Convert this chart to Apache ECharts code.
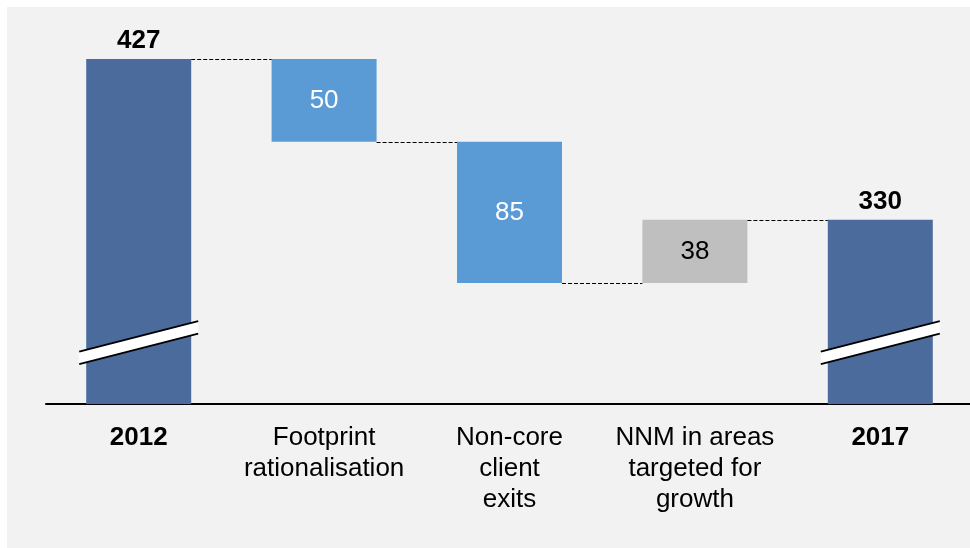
<!DOCTYPE html>
<html>
<head>
<meta charset="utf-8">
<script src="https://cdn.jsdelivr.net/npm/echarts@6/dist/echarts.min.js"></script>
<style>
  html, body { margin: 0; padding: 0; background: #ffffff; }
  #wrap { position: relative; width: 970px; height: 548px; overflow: hidden; }
  #chart { position: absolute; left: 7px; top: 7px; width: 966px; height: 541px; }
</style>
</head>
<body>
<div id="wrap"><div id="chart"></div></div>
<script>
// ---- data ----
const categories = ['2012', 'Footprint\nrationalisation', 'Non-core\nclient\nexits', 'NNM in areas\ntargeted for\ngrowth', '2017'];
const boldCategories = ['2012', '2017'];
const startValue = 427;
const changes = [-50, -85, 38];
const endValue = 330;
const breakValue = 256;          // where the break marks sit on the base bars
const breakCategories = [0, 4];  // indexes of truncated bars

// ---- styles ----
const FONT = "'Liberation Sans', Arial, sans-serif";
const DARK = '#4A6B9B';
const BLUE = '#5B9BD5';
const GREY = '#BFBFBF';
const BAR_W = 105;

// ---- build waterfall ----
const helper = [0];
const visible = [];
const connectors = [[0, startValue]];
const topLabel = { show: true, position: 'top', distance: 5, color: '#000', fontWeight: 'bold', fontSize: 26, lineHeight: 26, fontFamily: FONT };
visible.push({ value: startValue, itemStyle: { color: DARK }, label: topLabel });
let running = startValue;
changes.forEach((c, i) => {
  const lo = c < 0 ? running + c : running;
  helper.push(lo);
  running += c;
  const inc = c > 0;
  visible.push({
    value: Math.abs(c),
    itemStyle: { color: inc ? GREY : BLUE },
    label: { show: true, position: 'inside', color: inc ? '#000' : '#fff', fontSize: 26, lineHeight: 26, fontFamily: FONT }
  });
  connectors.push([i + 1, running]);
});
helper.push(0);
visible.push({ value: endValue, itemStyle: { color: DARK }, label: topLabel });

const chart = echarts.init(document.getElementById('chart'));
chart.setOption({
  backgroundColor: '#F2F2F2',
  animation: false,
  grid: { left: 39, right: 0, top: 32, bottom: 144, containLabel: false },
  xAxis: {
    type: 'category',
    data: categories.map(c => boldCategories.includes(c) ? { value: c, textStyle: { fontWeight: 'bold' } } : c),
    axisLine: { show: true, lineStyle: { color: '#000', width: 2 } },
    axisTick: { show: false },
    axisLabel: { interval: 0, margin: 18, color: '#000', fontSize: 26, lineHeight: 31, fontFamily: FONT, align: 'center' },
    splitLine: { show: false }
  },
  yAxis: {
    type: 'value', min: 219, max: 439,
    show: false, splitLine: { show: false }
  },
  series: [
    {
      type: 'bar', stack: 'wf', barWidth: BAR_W, silent: true,
      itemStyle: { color: 'transparent' },
      data: helper
    },
    {
      type: 'bar', stack: 'wf', barWidth: BAR_W,
      data: visible
    },
    {
      type: 'custom', z: 5, clip: false,
      data: connectors,
      renderItem: function (params, api) {
        const i = api.value(0);
        const v = api.value(1);
        if (i >= categories.length - 1) return null;
        const p1 = api.coord([i, v]);
        const p2 = api.coord([i + 1, v]);
        const y = Math.round(p1[1]) + 0.5;
        return {
          type: 'line',
          shape: { x1: p1[0] + BAR_W / 2, y1: y, x2: p2[0] - BAR_W / 2, y2: y },
          style: { stroke: '#000', lineWidth: 1, lineDash: [4, 2] }
        };
      }
    },
    {
      type: 'custom', z: 6, clip: false,
      data: breakCategories.map(i => [i, breakValue]),
      renderItem: function (params, api) {
        const c = api.coord([api.value(0), api.value(1)]);
        const hw = BAR_W / 2 + 7;
        const dy = 15.25;
        const t = 6.25;
        const xl = c[0] - hw, xr = c[0] + hw;
        return {
          type: 'group',
          children: [
            { type: 'polygon', shape: { points: [[xl, c[1] + dy - t], [xr, c[1] - dy - t], [xr, c[1] - dy + t], [xl, c[1] + dy + t]] }, style: { fill: '#fff' } },
            { type: 'line', shape: { x1: xl, y1: c[1] + dy - t, x2: xr, y2: c[1] - dy - t }, style: { stroke: '#000', lineWidth: 2 } },
            { type: 'line', shape: { x1: xl, y1: c[1] + dy + t, x2: xr, y2: c[1] - dy + t }, style: { stroke: '#000', lineWidth: 2 } }
          ]
        };
      }
    }
  ]
});
</script>
</body>
</html>
